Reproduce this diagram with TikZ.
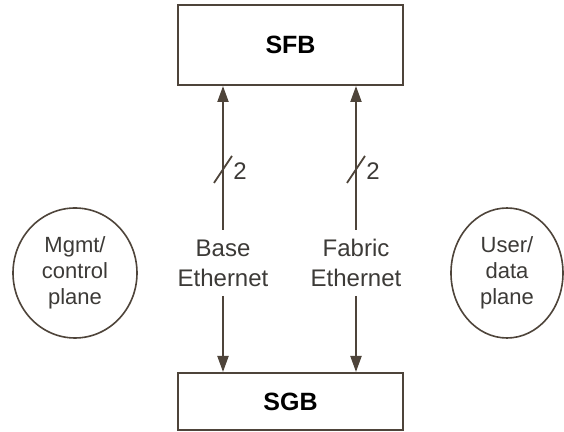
\documentclass[tikz,border=0pt]{standalone}
\usepackage{fontspec}
\setmainfont{Liberation Sans}
\usetikzlibrary{arrows.meta,shapes.geometric}
\definecolor{linec}{RGB}{78,68,58}
\definecolor{txtc}{RGB}{60,58,55}
\begin{document}
\begin{tikzpicture}[x=0.5pt,y=-0.5pt,
  box/.style={draw=linec,line width=1pt,minimum width=112.5pt,inner sep=0pt,font=\fontsize{12.5}{15}\selectfont\bfseries,text=black},
  lbl/.style={font=\fontsize{12}{15}\selectfont,text=txtc,align=center,inner sep=0pt},
  plane/.style={ellipse,draw=linec,line width=0.8pt,inner sep=0pt,font=\fontsize{11}{13}\selectfont,text=txtc,align=center},
  arr/.style={draw=linec,line width=1pt,-{Triangle[length=8pt,width=5.5pt]}},
  tick/.style={draw=linec,line width=0.9pt}]
\useasboundingbox (0,0) rectangle (564,432);
\node[box,minimum height=40pt] (sfb) at (290.5,45) {SFB};
\node[box,minimum height=28.5pt] (sgb) at (290.5,401.5) {SGB};
\node[lbl] (base) at (223,263) {Base\\Ethernet};
\node[lbl] (fab) at (356,263) {Fabric\\Ethernet};
\coordinate (b1) at (223,230);
\coordinate (b2) at (223,296);
\coordinate (f1) at (356,230);
\coordinate (f2) at (356,296);
\draw[arr] (b1) -- (b1 |- sfb.south);
\draw[arr] (b2) -- (b2 |- sgb.north);
\draw[arr] (f1) -- (f1 |- sfb.south);
\draw[arr] (f2) -- (f2 |- sgb.north);
\coordinate (bs1) at (214,183);
\coordinate (bs2) at (232,156);
\coordinate (fs1) at (347,183);
\coordinate (fs2) at (365,156);
\draw[tick] (bs1) -- (bs2);
\draw[tick] (fs1) -- (fs2);
\node[lbl,anchor=west] (bn) at (233,171) {2};
\node[lbl,anchor=west] (fn) at (366,171) {2};
\node[plane,minimum width=62pt,minimum height=65pt] (mgmt) at (75,273) {Mgmt/\\control\\plane};
\node[plane,minimum width=56pt,minimum height=65pt] (user) at (507,273) {User/\\data\\plane};
\end{tikzpicture}
\end{document}
